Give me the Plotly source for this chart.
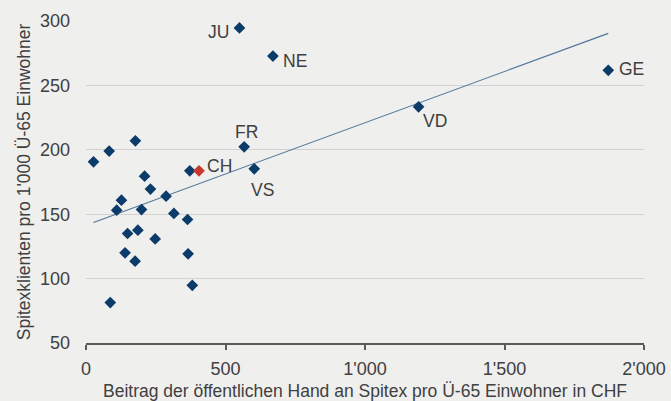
import plotly.graph_objects as go

# Data: cantons (x = Beitrag CHF pro Ü-65 Einwohner, y = Spitexklienten pro 1'000 Ü-65)
kanton_label = ["JU", "NE", "FR", "VS", "VD", "GE",
                "", "", "", "", "", "", "", "", "", "", "", "", "", "", "", "", "", "", "", ""]
kanton_x = [550, 670, 567, 603, 1192, 1872,
            372, 27, 83, 177, 210, 231, 287, 127, 110, 199, 315, 364, 149, 186, 248, 140, 176, 366, 381, 87]
kanton_y = [294.6, 272.8, 202.3, 185.2, 233.4, 261.7,
            183.7, 190.7, 199.0, 207.0, 179.5, 169.5, 164.0, 160.9, 153.1, 153.6, 150.6, 145.9, 135.0, 137.6,
            130.8, 120.0, 113.5, 119.2, 94.8, 81.4]

ch_label = ["CH"]
ch_x = [405]
ch_y = [183.7]

trend_x = [27, 1872]
trend_y = [143.6, 290.4]

x_tickvals = [0, 500, 1000, 1500, 2000]
x_ticktext = ["0", "500", "1'000", "1'500", "2'000"]
y_tickvals = [50, 100, 150, 200, 250, 300]
y_ticktext = ["50", "100", "150", "200", "250", "300"]

x_title = "Beitrag der öffentlichen Hand an Spitex pro Ü-65 Einwohner in CHF"
y_title = "Spitexklienten pro 1'000 Ü-65 Einwohner"

# Styles
FONT = "Liberation Sans"
TEXT_COLOR = "#404040"
NAVY = "#0b3b68"
RED = "#c8382c"
BG = "#efefee"

label_offsets = {
    "JU": dict(xanchor="right", xshift=-8, yshift=-4),
    "NE": dict(xanchor="left", xshift=8, yshift=-5),
    "FR": dict(xanchor="center", xshift=2, yshift=15),
    "VS": dict(xanchor="left", xshift=-5, yshift=-21),
    "VD": dict(xanchor="left", xshift=2, yshift=-14),
    "GE": dict(xanchor="left", xshift=9, yshift=1),
    "CH": dict(xanchor="left", xshift=6, yshift=5),
}

fig = go.Figure()

fig.add_trace(go.Scatter(
    x=trend_x, y=trend_y, mode="lines",
    line=dict(color="#4f7599", width=1.1),
    hoverinfo="skip", showlegend=False,
))

fig.add_trace(go.Scatter(
    x=kanton_x, y=kanton_y, mode="markers",
    marker=dict(symbol="diamond", size=9, color=NAVY, line=dict(width=0)),
    showlegend=False,
))

fig.add_trace(go.Scatter(
    x=ch_x, y=ch_y, mode="markers",
    marker=dict(symbol="diamond", size=9, color=RED, line=dict(width=0)),
    showlegend=False,
))

annotations = []
for lab, xv, yv in list(zip(kanton_label, kanton_x, kanton_y)) + list(zip(ch_label, ch_x, ch_y)):
    if not lab:
        continue
    o = label_offsets[lab]
    annotations.append(dict(
        x=xv, y=yv, xref="x", yref="y", text=lab, showarrow=False,
        xanchor=o["xanchor"], yanchor="middle", xshift=o["xshift"], yshift=o["yshift"],
        font=dict(family=FONT, size=17.5, color=TEXT_COLOR),
    ))

fig.update_layout(
    width=671, height=401,
    margin=dict(l=86, r=27, t=21, b=58),
    paper_bgcolor=BG, plot_bgcolor=BG,
    font=dict(family=FONT, size=17, color=TEXT_COLOR),
    annotations=annotations,
    xaxis=dict(
        range=[0, 2000], tickvals=x_tickvals, ticktext=x_ticktext,
        showgrid=False, zeroline=False, automargin=False,
        showline=True, linecolor="#5a5a5a", linewidth=1.5,
        ticks="outside", ticklen=5, tickcolor="#5a5a5a", tickwidth=1.5,
        ticklabelstandoff=4,
        tickfont=dict(family=FONT, size=18, color=TEXT_COLOR),
        title=dict(text=x_title, font=dict(family=FONT, size=17.5, color=TEXT_COLOR), standoff=8),
    ),
    yaxis=dict(
        range=[50, 300], tickvals=y_tickvals, ticktext=y_ticktext,
        showgrid=True, gridcolor="#d2d2d2", gridwidth=1, zeroline=False, automargin=False,
        showline=False, ticks="",
        ticklabelstandoff=15,
        tickfont=dict(family=FONT, size=18, color=TEXT_COLOR),
        title=dict(text=y_title, font=dict(family=FONT, size=17.5, color=TEXT_COLOR), standoff=4),
    ),
)

fig.write_html(
    "out.html",
    config={"displayModeBar": False},
    post_script="document.body.style.margin='0';document.body.style.background='" + BG + "';",
)
